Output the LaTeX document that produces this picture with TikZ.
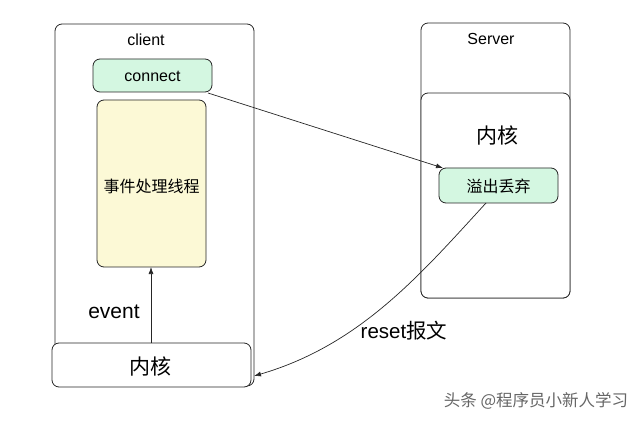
\documentclass[tikz,border=0pt]{standalone}
\usepackage{fontspec}
\setmainfont{Liberation Sans}
\newfontfamily\cjk{Noto Sans CJK SC}
\usetikzlibrary{arrows.meta}
\definecolor{mint}{HTML}{D4F7E1}
\definecolor{cream}{HTML}{FCF9D6}
\begin{document}
\begin{tikzpicture}[x=1pt,y=-1pt,
  box/.style={draw=black!85,line width=0.8pt,rounded corners=7pt},
  arr/.style={-{Latex[length=7pt,width=5pt]},line width=0.7pt,draw=black!85},
  lbl/.style={inner sep=0pt,font=#1},
  lbl/.default={\fontsize{16}{18}\selectfont}]
\useasboundingbox (0,0) rectangle (640,422);
% client
\draw[box,fill=white] (55,24) rectangle (254,386);
\node[lbl] (clientlbl) at (146,40) {client};
\draw[box,fill=mint] (93,59) rectangle (212,92);
\node[lbl] (connect) at (152.5,76) {connect};
\coordinate (connectcorner) at (208,93);
\draw[box,fill=cream] (97,100) rectangle (206,267);
\node[lbl={\cjk\fontsize{16}{18}\selectfont}] (thread) at (151.5,186) {事件处理线程};
\coordinate (threadbottom) at (151,267);
% client kernel
\draw[box,fill=white] (52,343) rectangle (251,387);
\node[lbl={\cjk\fontsize{21}{23}\selectfont}] (ckernel) at (150,366) {内核};
\coordinate (ckerneltop) at (151,343);
\coordinate (ckernelright) at (254,376);
\draw[arr] (ckerneltop) -- (threadbottom);
\node[lbl={\fontsize{21}{23}\selectfont}] (event) at (114,312) {event};
% server
\draw[box,fill=white] (421,23) rectangle (570,298);
\node[lbl] (serverlbl) at (491,39) {Server};
\draw[box,fill=white] (421,93) rectangle (570,298);
\node[lbl={\cjk\fontsize{21}{23}\selectfont}] (skernel) at (497,135) {内核};
\draw[box,fill=mint] (439,168) rectangle (558,203);
\node[lbl={\cjk\fontsize{16}{18}\selectfont}] (overflow) at (498.5,186) {溢出丢弃};
\coordinate (overflowtl) at (443,168);
\coordinate (overflowbot) at (486,203);
\draw[arr] (connectcorner) -- (overflowtl);
\draw[arr] (overflowbot) .. controls (420,275) and (360,345) .. (ckernelright);
\node[lbl={\fontsize{20.5}{23}\selectfont}] (reset) at (404,331) {reset{\cjk 报文}};
\node[lbl={\cjk\fontsize{16.5}{18}\selectfont},text=black!60] (wm) at (536,401) {头条 @程序员小新人学习};
\end{tikzpicture}
\end{document}
